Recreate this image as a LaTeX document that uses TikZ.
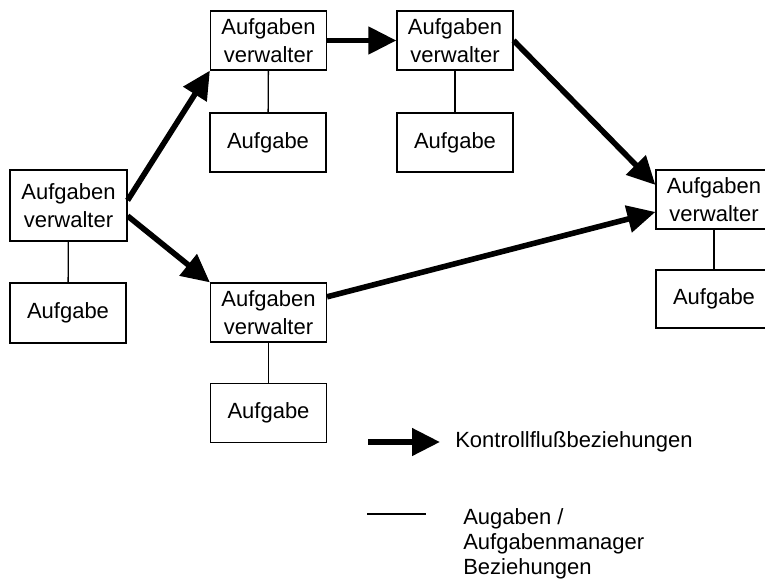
\documentclass[tikz,border=0pt]{standalone}
\usepackage{fontspec}
\setmainfont{Liberation Sans}
\usetikzlibrary{arrows.meta}
\begin{document}
\begin{tikzpicture}[x=0.75pt,y=-0.75pt,
 box/.style={draw,line width=0.9pt,inner sep=0pt,align=center,font=\fontsize{16.5}{21}\selectfont},
 mgr/.style={box,minimum width=87pt,minimum height=44.25pt},
 task/.style={box,minimum width=87pt,minimum height=44.25pt},
 flow/.style={line width=4.2pt,-{Triangle[length=21pt,width=20pt]}},
 rel/.style={line width=1pt},
 lbl/.style={inner sep=0pt,font=\fontsize{16.5}{18.75}\selectfont,align=left}]
\useasboundingbox (0,0) rectangle (765,583);
\clip (0,0) rectangle (765,583);
% managers
\node[mgr,minimum width=87.75pt,minimum height=53.25pt] (L) at (68.5,205.5) {Aufgaben\\verwalter};
\node[mgr] (T1) at (268.5,40.5) {Aufgaben\\verwalter};
\node[mgr] (T2) at (455,40.5) {Aufgaben\\verwalter};
\node[mgr] (B) at (268.5,312.5) {Aufgaben\\verwalter};
\node[mgr] (R) at (714,199.5) {Aufgaben\\verwalter};
% tasks
\node[task,minimum height=45pt] (Lt) at (68,313) {Aufgabe};
\node[task] (T1t) at (268,142.5) {Aufgabe};
\node[task] (T2t) at (455,142.5) {Aufgabe};
\node[task] (Bt) at (268.5,413) {Aufgabe};
\node[task,minimum height=43.5pt] (Rt) at (714,299) {Aufgabe};
% relations
\draw[rel] (L) -- (Lt);
\draw[rel] (T1) -- (T1t);
\draw[rel] (T2) -- (T2t);
\draw[rel] (B) -- (Bt);
\draw[rel] (R) -- (Rt);
% control flow
\draw[flow] (L.5) -- (T1.south west);
\draw[flow] (L.-10) -- (B.north west);
\draw[flow] (T1.east) -- (T2.west);
\draw[flow] (T2.east) -- (R.166);
\draw[flow] (B.15) -- (R.192);
% legend
\coordinate (la1) at (368,442);
\coordinate (la2) at (440,442);
\draw[flow] (la1) -- (la2);
\node[lbl,anchor=west] (lt1) at (455,442) {Kontrollflußbeziehungen};
\coordinate (ll1) at (367,514);
\coordinate (ll2) at (426,514);
\draw[rel] (ll1) -- (ll2);
\node[lbl,anchor=north west] (lt2) at (463,508) {Augaben /\\Aufgabenmanager\\Beziehungen};
\end{tikzpicture}
\end{document}
